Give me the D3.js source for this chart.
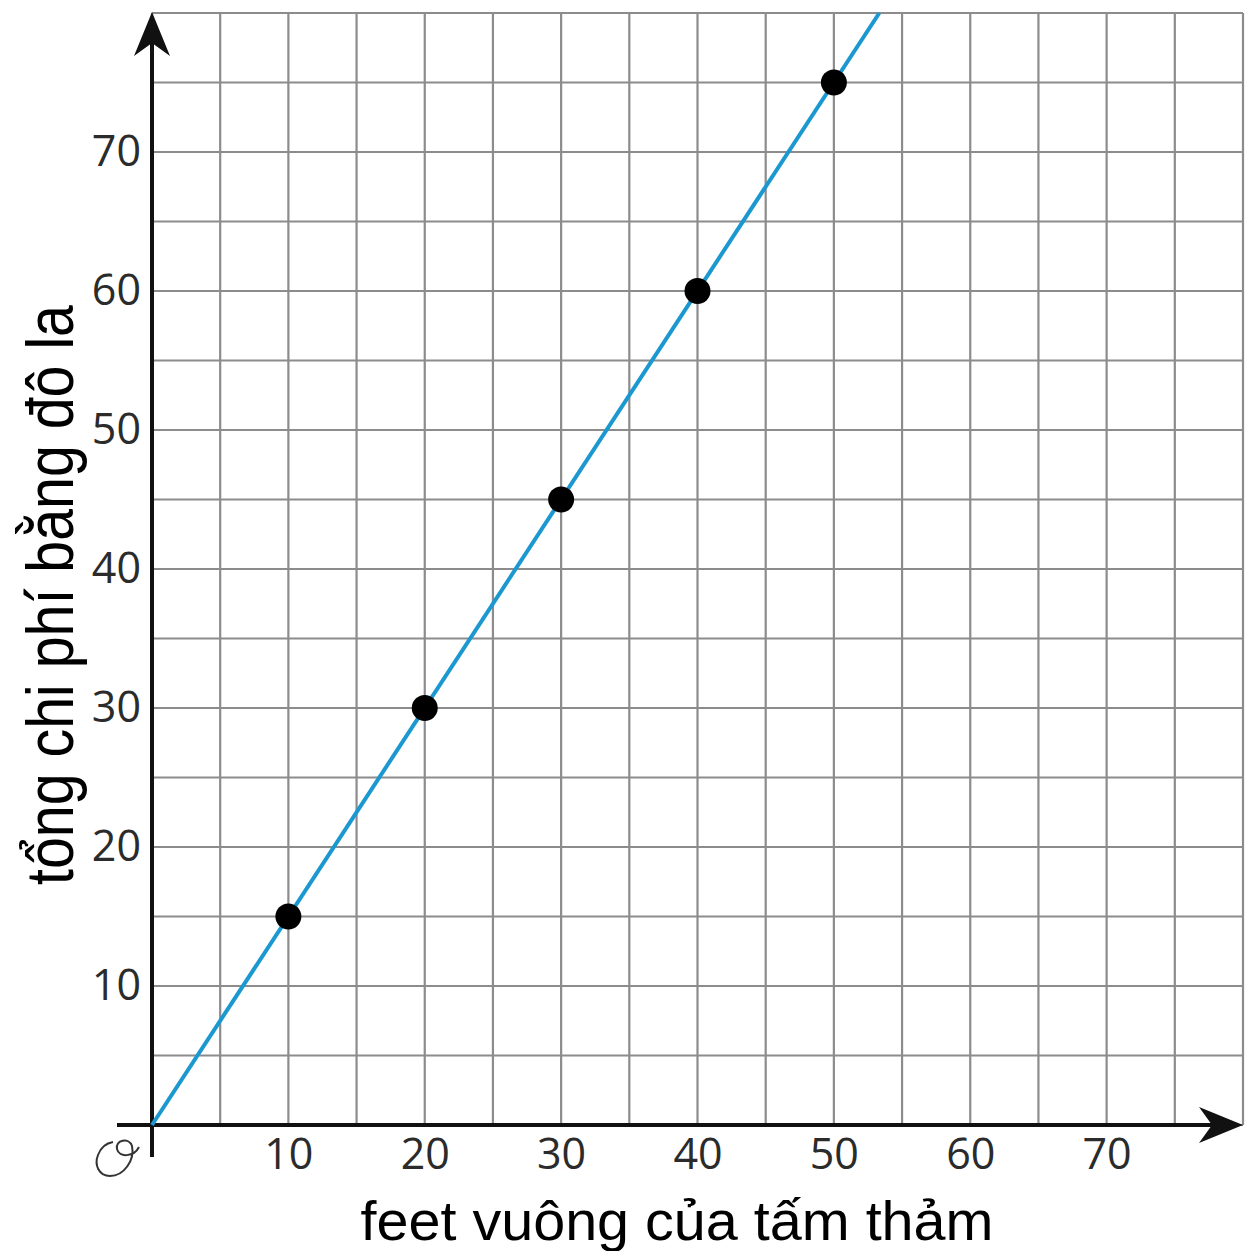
<!DOCTYPE html>
<html>
<head>
<meta charset="utf-8">
<script src="https://cdn.jsdelivr.net/npm/d3@7"></script>
<style>
  body { margin: 0; background: white; }
</style>
</head>
<body>
<div id="chart"></div>
<script>
// valores
const xTicks = [10, 20, 30, 40, 50, 60, 70];
const yTicks = [10, 20, 30, 40, 50, 60, 70];
const gridSteps = [0, 5, 10, 15, 20, 25, 30, 35, 40, 45, 50, 55, 60, 65, 70, 75, 80];
const pointX = [10, 20, 30, 40, 50];
const pointY = [15, 30, 45, 60, 75];
const lineX = [0, 53.33];
const lineY = [0, 80];
const xTitle = "feet vuông của tấm thảm";
const yTitle = "tổng chi phí bằng đô la";

const width = 1245;
const height = 1251;

const svg = d3.select("#chart")
  .append("svg")
  .attr("width", width)
  .attr("height", height)
  .style("background", "white");

const x = d3.scaleLinear().domain([0, 80]).range([152, 1243]);
const y = d3.scaleLinear().domain([0, 80]).range([1125, 13]);

// grade
const grid = svg.append("g")
  .attr("stroke", "#8c8c8c")
  .attr("stroke-width", 2.2);

grid.selectAll(".vline")
  .data(gridSteps)
  .enter()
  .append("line")
    .attr("x1", d => x(d)).attr("x2", d => x(d))
    .attr("y1", y(0)).attr("y2", y(80));

grid.selectAll(".hline")
  .data(gridSteps)
  .enter()
  .append("line")
    .attr("x1", x(0)).attr("x2", x(80))
    .attr("y1", d => y(d)).attr("y2", d => y(d));

// eixos
svg.append("line")
  .attr("x1", 117).attr("x2", 1225)
  .attr("y1", y(0)).attr("y2", y(0))
  .attr("stroke", "#111").attr("stroke-width", 4);

svg.append("line")
  .attr("x1", x(0)).attr("x2", x(0))
  .attr("y1", 1157).attr("y2", 30)
  .attr("stroke", "#111").attr("stroke-width", 4);

// pontas das setas
const tipX = x(80), tipY = y(0);
svg.append("path")
  .attr("d", `M${tipX},${tipY} L${tipX - 44},${tipY - 18} L${tipX - 31},${tipY} L${tipX - 44},${tipY + 18} Z`)
  .attr("fill", "#111");

const topX = x(0), topY = 12;
svg.append("path")
  .attr("d", `M${topX},${topY} L${topX - 18},${topY + 44} L${topX},${topY + 31} L${topX + 18},${topY + 44} Z`)
  .attr("fill", "#111");

// símbolo da origem
svg.append("path")
  .attr("d", "M139,1147 C134,1157 119,1158 117,1149 C115,1140 129,1137 132,1146 C135,1160 124,1176 110,1176 C99,1176 94,1165 98,1155 C101,1147 107,1143 113,1142")
  .attr("fill", "none")
  .attr("stroke", "#333")
  .attr("stroke-width", 2);

// rótulos dos eixos
svg.append("g")
  .attr("transform", `translate(0,${y(0)})`)
  .call(d3.axisBottom(x).tickValues(xTicks).tickSize(0).tickPadding(13))
  .call(g => g.select(".domain").remove())
  .call(g => g.selectAll("text")
    .attr("font-family", "Open Sans")
    .attr("font-size", "43px")
    .attr("fill", "#2b2b2b"));

svg.append("g")
  .attr("transform", `translate(${x(0)},0)`)
  .call(d3.axisLeft(y).tickValues(yTicks).tickSize(0).tickPadding(11))
  .call(g => g.select(".domain").remove())
  .call(g => g.selectAll("text")
    .attr("font-family", "Open Sans")
    .attr("font-size", "43px")
    .attr("fill", "#2b2b2b"));

// reta
svg.append("path")
  .datum(lineX.map((d, i) => ({ x: d, y: lineY[i] })))
  .attr("d", d3.line().x(d => x(d.x)).y(d => y(d.y)))
  .attr("fill", "none")
  .attr("stroke", "#1b98cf")
  .attr("stroke-width", 4);

// pontos
svg.selectAll(".pt")
  .data(pointX.map((d, i) => ({ x: d, y: pointY[i] })))
  .enter()
  .append("circle")
    .attr("class", "pt")
    .attr("cx", d => x(d.x))
    .attr("cy", d => y(d.y))
    .attr("r", 13)
    .attr("fill", "#000");

// títulos
svg.append("text")
  .attr("x", 677)
  .attr("y", 1240)
  .attr("text-anchor", "middle")
  .attr("font-family", "Liberation Sans, Arial")
  .attr("font-size", "55px")
  .attr("textLength", 633)
  .attr("lengthAdjust", "spacingAndGlyphs")
  .attr("fill", "#000")
  .text(xTitle);

svg.append("text")
  .attr("transform", "translate(73,595) rotate(-90)")
  .attr("text-anchor", "middle")
  .attr("font-family", "Liberation Sans, Arial")
  .attr("font-size", "66px")
  .attr("textLength", 580)
  .attr("lengthAdjust", "spacingAndGlyphs")
  .attr("fill", "#000")
  .text(yTitle);
</script>
</body>
</html>
